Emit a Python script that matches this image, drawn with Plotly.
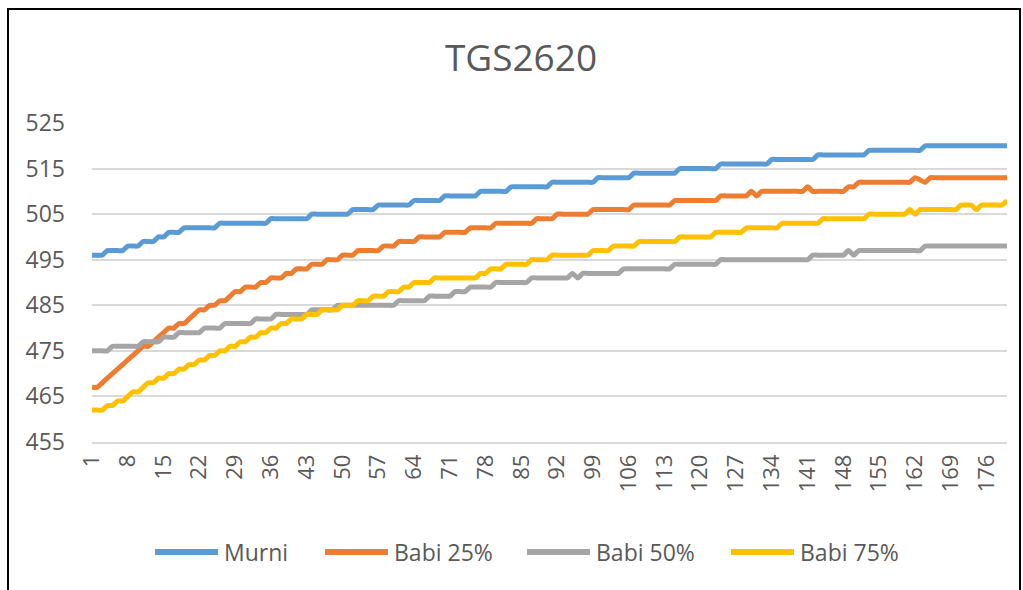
import plotly.graph_objects as go

# ---------------- data ----------------
TITLE = "TGS2620"
SERIES_NAMES = ["Murni", "Babi 25%", "Babi 50%", "Babi 75%"]

SAMPLE_INDEX = list(range(1, 181))          # category labels 1..180

X_TICKS = [1, 8, 15, 22, 29, 36, 43, 50, 57, 64, 71, 78, 85, 92, 99, 106,
           113, 120, 127, 134, 141, 148, 155, 162, 169, 176]
Y_TICKS = [455, 465, 475, 485, 495, 505, 515, 525]

murni = [
    496, 496, 496, 497, 497, 497, 497, 498, 498, 498,
    499, 499, 499, 500, 500, 501, 501, 501, 502, 502,
    502, 502, 502, 502, 502, 503, 503, 503, 503, 503,
    503, 503, 503, 503, 503, 504, 504, 504, 504, 504,
    504, 504, 504, 505, 505, 505, 505, 505, 505, 505,
    505, 506, 506, 506, 506, 506, 507, 507, 507, 507,
    507, 507, 507, 508, 508, 508, 508, 508, 508, 509,
    509, 509, 509, 509, 509, 509, 510, 510, 510, 510,
    510, 510, 511, 511, 511, 511, 511, 511, 511, 511,
    512, 512, 512, 512, 512, 512, 512, 512, 512, 513,
    513, 513, 513, 513, 513, 513, 514, 514, 514, 514,
    514, 514, 514, 514, 514, 515, 515, 515, 515, 515,
    515, 515, 515, 516, 516, 516, 516, 516, 516, 516,
    516, 516, 516, 517, 517, 517, 517, 517, 517, 517,
    517, 517, 518, 518, 518, 518, 518, 518, 518, 518,
    518, 518, 519, 519, 519, 519, 519, 519, 519, 519,
    519, 519, 519, 520, 520, 520, 520, 520, 520, 520,
    520, 520, 520, 520, 520, 520, 520, 520, 520, 520,
]

babi_25 = [
    467, 467, 468, 469, 470, 471, 472, 473, 474, 475,
    476, 476, 477, 478, 479, 480, 480, 481, 481, 482,
    483, 484, 484, 485, 485, 486, 486, 487, 488, 488,
    489, 489, 489, 490, 490, 491, 491, 491, 492, 492,
    493, 493, 493, 494, 494, 494, 495, 495, 495, 496,
    496, 496, 497, 497, 497, 497, 497, 498, 498, 498,
    499, 499, 499, 499, 500, 500, 500, 500, 500, 501,
    501, 501, 501, 501, 502, 502, 502, 502, 502, 503,
    503, 503, 503, 503, 503, 503, 503, 504, 504, 504,
    504, 505, 505, 505, 505, 505, 505, 505, 506, 506,
    506, 506, 506, 506, 506, 506, 507, 507, 507, 507,
    507, 507, 507, 507, 508, 508, 508, 508, 508, 508,
    508, 508, 508, 509, 509, 509, 509, 509, 509, 510,
    509, 510, 510, 510, 510, 510, 510, 510, 510, 510,
    511, 510, 510, 510, 510, 510, 510, 510, 511, 511,
    512, 512, 512, 512, 512, 512, 512, 512, 512, 512,
    512, 513, 512.5, 512, 513, 513, 513, 513, 513, 513,
    513, 513, 513, 513, 513, 513, 513, 513, 513, 513,
]

babi_50 = [
    475, 475, 475, 475, 476, 476, 476, 476, 476, 476,
    477, 477, 477, 477, 478, 478, 478, 479, 479, 479,
    479, 479, 480, 480, 480, 480, 481, 481, 481, 481,
    481, 481, 482, 482, 482, 482, 483, 483, 483, 483,
    483, 483, 483, 484, 484, 484, 484, 484, 485, 485,
    485, 485, 485, 485, 485, 485, 485, 485, 485, 485,
    486, 486, 486, 486, 486, 486, 487, 487, 487, 487,
    487, 488, 488, 488, 489, 489, 489, 489, 489, 490,
    490, 490, 490, 490, 490, 490, 491, 491, 491, 491,
    491, 491, 491, 491, 492, 491, 492, 492, 492, 492,
    492, 492, 492, 492, 493, 493, 493, 493, 493, 493,
    493, 493, 493, 493, 494, 494, 494, 494, 494, 494,
    494, 494, 494, 495, 495, 495, 495, 495, 495, 495,
    495, 495, 495, 495, 495, 495, 495, 495, 495, 495,
    495, 496, 496, 496, 496, 496, 496, 496, 497, 496,
    497, 497, 497, 497, 497, 497, 497, 497, 497, 497,
    497, 497, 497, 498, 498, 498, 498, 498, 498, 498,
    498, 498, 498, 498, 498, 498, 498, 498, 498, 498,
]

babi_75 = [
    462, 462, 462, 463, 463, 464, 464, 465, 466, 466,
    467, 468, 468, 469, 469, 470, 470, 471, 471, 472,
    472, 473, 473, 474, 474, 475, 475, 476, 476, 477,
    477, 478, 478, 479, 479, 480, 480, 481, 481, 482,
    482, 482, 483, 483, 483, 484, 484, 484, 484, 485,
    485, 485, 486, 486, 486, 487, 487, 487, 488, 488,
    488, 489, 489, 490, 490, 490, 490, 491, 491, 491,
    491, 491, 491, 491, 491, 491, 492, 492, 493, 493,
    493, 494, 494, 494, 494, 494, 495, 495, 495, 495,
    496, 496, 496, 496, 496, 496, 496, 496, 497, 497,
    497, 497, 498, 498, 498, 498, 498, 499, 499, 499,
    499, 499, 499, 499, 499, 500, 500, 500, 500, 500,
    500, 500, 501, 501, 501, 501, 501, 501, 502, 502,
    502, 502, 502, 502, 502, 503, 503, 503, 503, 503,
    503, 503, 503, 504, 504, 504, 504, 504, 504, 504,
    504, 504, 505, 505, 505, 505, 505, 505, 505, 505,
    506, 505, 506, 506, 506, 506, 506, 506, 506, 506,
    507, 507, 507, 506, 507, 507, 507, 507, 507, 508,
]

COLORS = ["#5B9BD5", "#ED7D31", "#A5A5A5", "#FFC000"]

# ---------------- layout geometry (pixels) ----------------
W, H = 1023, 590
ML, MR, MT, MB = 92, 16, 123, 148
PW = W - ML - MR
PH = H - MT - MB


def px_x(p):
    return (p - ML) / PW


def px_y(p):
    return (H - MB - p) / PH


FONT = "Open Sans, Noto Sans, DejaVu Sans, sans-serif"
TXT = "#595959"

# legend swatch / label pixel positions
LEG_Y = 552
LEG_SWATCH = [(155, 218), (325, 388), (527, 590), (731, 794)]
LEG_TEXT_X = [222, 392, 594, 798]

fig = go.Figure()
for name, ys, col in zip(SERIES_NAMES, [murni, babi_25, babi_50, babi_75], COLORS):
    fig.add_trace(go.Scatter(
        x=SAMPLE_INDEX, y=ys, name=name, mode="lines",
        line=dict(color=col, width=5, shape="spline", smoothing=0.6),
        showlegend=False,
    ))

shapes = [dict(type="rect", xref="paper", yref="paper",
               x0=px_x(8), x1=px_x(1020), y0=px_y(620), y1=px_y(9),
               line=dict(color="black", width=2), fillcolor="rgba(0,0,0,0)",
               layer="above")]
annotations = []
for name, col, (a, b), tx in zip(SERIES_NAMES, COLORS, LEG_SWATCH, LEG_TEXT_X):
    shapes.append(dict(type="line", xref="paper", yref="paper",
                       x0=px_x(a), x1=px_x(b), y0=px_y(LEG_Y), y1=px_y(LEG_Y),
                       line=dict(color=col, width=6)))
    annotations.append(dict(text=name, xref="paper", yref="paper",
                            x=px_x(tx), y=px_y(LEG_Y), xanchor="left",
                            yanchor="middle", showarrow=False,
                            font=dict(size=23, color=TXT, family=FONT)))

fig.update_layout(
    width=W, height=H,
    margin=dict(l=ML, r=MR, t=MT, b=MB),
    paper_bgcolor="white", plot_bgcolor="white",
    font=dict(family=FONT, color=TXT, size=23),
    title=dict(text=TITLE, x=521 / W, xanchor="center", xref="container",
               y=1 - 58 / H, yanchor="middle", yref="container",
               font=dict(size=37, color=TXT, family=FONT)),
    showlegend=False,
    xaxis=dict(range=[1, 180], tickmode="array", tickvals=X_TICKS,
               ticktext=[str(t) for t in X_TICKS], tickangle=-90,
               showgrid=False, zeroline=False, showline=True,
               linecolor="#D9D9D9", linewidth=1.5, ticks="",
               ticklabelstandoff=2,
               tickfont=dict(size=22, color=TXT, family=FONT)),
    yaxis=dict(range=[455, 525], tickmode="array", tickvals=Y_TICKS,
               showgrid=True, gridcolor="#D9D9D9", gridwidth=1.5,
               zeroline=False, showline=False, ticks="",
               ticklabelstandoff=26,
               tickfont=dict(size=23, color=TXT, family=FONT)),
    shapes=shapes,
    annotations=annotations,
)

fig.write_html("out.html",
               config={"displayModeBar": False},
               post_script="document.body.style.margin='0px';"
                           "document.body.style.overflow='hidden';")
